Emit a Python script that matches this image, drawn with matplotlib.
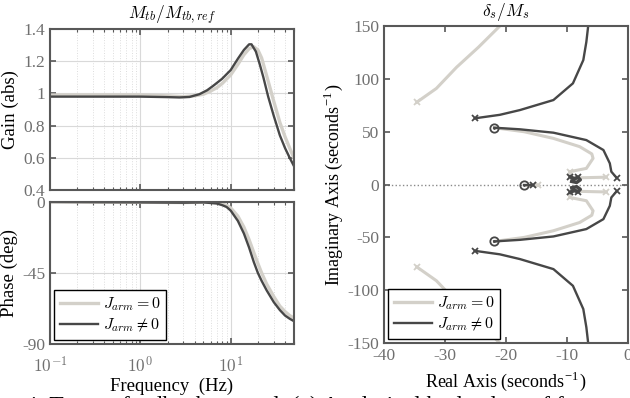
import matplotlib
matplotlib.use('Agg')
import matplotlib.pyplot as plt
from matplotlib.ticker import LogLocator, NullFormatter

plt.rcParams['font.family'] = ['Liberation Serif', 'DejaVu Serif']
plt.rcParams['mathtext.fontset'] = 'cm'
plt.rcParams['axes.unicode_minus'] = False

LIGHT = '#d3d0c9'
DARK = '#474747'
SPINE = '#585858'
TICKC = '#707070'

# Bode data (Hz)
f_gain_light = [0.1, 0.5, 1, 2, 3, 4, 5, 6, 7, 8, 10, 12, 14, 16, 18, 20, 22, 25, 30, 35, 40, 45, 50]
gain_light = [0.99, 0.99, 0.99, 0.985, 0.98, 0.985, 0.995, 1.015, 1.035, 1.06, 1.115, 1.18, 1.24, 1.278, 1.29, 1.27, 1.22, 1.11, 0.95, 0.82, 0.73, 0.66, 0.6]
f_gain_dark = [0.1, 0.5, 1, 2, 2.7, 3.5, 4.5, 5.5, 6.5, 8, 10, 12, 14, 16, 17, 19, 21, 23, 26, 30, 35, 40, 45, 50]
gain_dark = [0.98, 0.98, 0.98, 0.977, 0.975, 0.978, 0.995, 1.02, 1.05, 1.09, 1.145, 1.215, 1.27, 1.305, 1.305, 1.26, 1.18, 1.1, 0.98, 0.86, 0.74, 0.66, 0.6, 0.55]

f_phase = [0.1, 1, 3, 5, 7, 8, 9, 10, 12, 14, 16, 18, 20, 22, 25, 30, 35, 40, 45, 50]
phase_light = [0, -0.2, -0.4, -0.2, -0.5, -1.2, -2.2, -3.8, -9, -16, -24, -32, -39, -45, -52, -60, -66, -69.5, -72, -73.5]
phase_dark = [0, -0.3, -0.5, -0.3, -1, -2, -3.2, -5.5, -12, -20, -29, -38, -45, -50, -56, -63.5, -68.5, -72, -74, -75.5]

# Root locus branches (upper half; lower half is the conjugate)
rl_light_outer_re = [-34.6, -31.4, -28.1, -24.5, -21.0]
rl_light_outer_im = [78, 91, 111, 130, 150]
rl_light_inner_re = [-21.9, -17, -12.2, -7.9, -5.9, -5.7, -6.8, -9.5]
rl_light_inner_im = [53.8, 50, 43.7, 35.9, 29, 24.8, 15.3, 12.2]
rl_light_near_re = [-9.3, -6.5, -3.5]
rl_light_near_im = [6.2, 6.6, 7.0]
rl_dark_outer_re = [-25.1, -21, -17.7, -12.2, -9.0, -7.3, -6.8, -6.5]
rl_dark_outer_im = [62.7, 66, 70.5, 80, 95.8, 117.8, 135, 150]
rl_dark_inner_re = [-21.9, -17.7, -12.2, -6.8, -4.0, -2.95, -2.7, -1.85]
rl_dark_inner_im = [53.8, 52.3, 49.1, 42.1, 32.7, 20.1, 12.2, 6.5]
rl_dark_near_re = [-9.4, -8.8, -8.2, -7.8, -8.4, -9.2]
rl_dark_near_im = [7.5, 5.5, 7.0, 4.5, 2.0, 3.0]
zero_re = [-21.9, -17.05]
zero_im = [53.8, 0]

fig = plt.figure(figsize=(6.3, 3.98), dpi=100)
ax1 = fig.add_axes([0.0794, 0.5226, 0.387, 0.4045])
ax2 = fig.add_axes([0.0794, 0.1357, 0.387, 0.357])
ax3 = fig.add_axes([0.6095, 0.138, 0.387, 0.7965])

def style(ax):
    for s in ax.spines.values():
        s.set_color(SPINE)
        s.set_linewidth(1.5)
    ax.tick_params(which='both', direction='in', top=True, right=True,
                   colors=SPINE, labelcolor=TICKC, labelsize=12.5)
    ax.tick_params(which='major', length=4, width=1.2)
    ax.tick_params(which='minor', length=2, width=0.8)

for ax in (ax1, ax2):
    ax.set_xscale('log')
    ax.set_xlim(0.1, 50)
    ax.xaxis.set_minor_locator(LogLocator(base=10, subs=range(2, 10), numticks=20))
    ax.xaxis.set_minor_formatter(NullFormatter())
    ax.grid(True, which='major', color='#d9d9d9', lw=0.8)
    ax.grid(True, which='minor', axis='x', color='#dddddd', lw=0.7, ls=':')
    style(ax)

ax1.plot(f_gain_light, gain_light, color=LIGHT, lw=2.4)
ax1.plot(f_gain_dark, gain_dark, color=DARK, lw=1.7)
ax1.set_ylim(0.4, 1.4)
ax1.set_yticks([0.4, 0.6, 0.8, 1.0, 1.2, 1.4])
ax1.set_yticklabels(['0.4', '0.6', '0.8', '1', '1.2', '1.4'])
ax1.set_xticklabels([])
ax1.set_ylabel('Gain (abs)', fontsize=13.5, labelpad=3)
ax1.set_title(r'$M_{tb}/M_{tb,ref}$', fontsize=12.5, pad=7)

l1, = ax2.plot(f_phase, phase_light, color=LIGHT, lw=2.4, label=r'$J_{arm}=0$')
l2, = ax2.plot(f_phase, phase_dark, color=DARK, lw=1.7, label=r'$J_{arm}\neq0$')
ax2.set_ylim(-90, 0)
ax2.set_yticks([-90, -45, 0])
ax2.set_yticklabels(['-90', '-45', '0'])
ax2.set_xticks([0.1, 1, 10])
ax2.set_xticklabels([r'$10^{-1}$', r'$10^{0}$', r'$10^{1}$'])
ax2.tick_params(axis='x', pad=9)
ax2.set_xlabel('Frequency  (Hz)', fontsize=13.5, labelpad=1)
ax2.set_ylabel('Phase (deg)', fontsize=13.5, labelpad=3)

legkw = dict(loc='lower left', fontsize=11.5, handlelength=2.4, handletextpad=0.3,
             fancybox=False, framealpha=1, edgecolor='black', borderpad=0.35,
             labelspacing=0.25, borderaxespad=0.25)
leg = ax2.legend(**legkw)
leg.get_frame().set_linewidth(1.0)

# Root locus
ax3.axhline(0, color='#8a8a8a', lw=1.0, ls=':', zorder=1)
for sgn in (1, -1):
    ax3.plot(rl_light_outer_re, [sgn * v for v in rl_light_outer_im], color=LIGHT, lw=2.2)
    ax3.plot(rl_light_inner_re, [sgn * v for v in rl_light_inner_im], color=LIGHT, lw=2.2)
    ax3.plot(rl_light_near_re, [sgn * v for v in rl_light_near_im], color=LIGHT, lw=2.2)
    ax3.plot(rl_dark_outer_re, [sgn * v for v in rl_dark_outer_im], color=DARK, lw=1.7)
    ax3.plot(rl_dark_inner_re, [sgn * v for v in rl_dark_inner_im], color=DARK, lw=1.7)
    ax3.plot(rl_dark_near_re, [sgn * v for v in rl_dark_near_im], color=DARK, lw=2.5)
    ax3.plot([rl_light_outer_re[0], rl_light_inner_re[-1], rl_light_near_re[-1]],
             [sgn * rl_light_outer_im[0], sgn * rl_light_inner_im[-1], sgn * rl_light_near_im[-1]],
             'x', color=LIGHT, ms=5, mew=1.3)
    ax3.plot([rl_dark_outer_re[0], rl_dark_inner_re[-1], rl_dark_near_re[0], rl_dark_near_re[2]],
             [sgn * rl_dark_outer_im[0], sgn * rl_dark_inner_im[-1], sgn * rl_dark_near_im[0], sgn * rl_dark_near_im[2]],
             'x', color=DARK, ms=5, mew=1.3)
ax3.plot([-16.5, -14.7], [0, 0], color=LIGHT, lw=2.2)
ax3.plot([-14.7], [0], 'x', color=LIGHT, ms=5, mew=1.3)
ax3.plot([-17.05, -15.5], [0, 0], color=DARK, lw=1.7)
ax3.plot([-15.5], [0], 'x', color=DARK, ms=4, mew=1.3)
ax3.plot(zero_re + zero_re[:1], zero_im + [-zero_im[0]], 'o', mfc='none', mec=DARK, ms=6, mew=1.3)
ax3.plot(zero_re + zero_re[:1], zero_im + [-zero_im[0]], '.', color=DARK, ms=2)

ax3.set_xlim(-40, 0)
ax3.set_ylim(-150, 150)
ax3.set_xticks([-40, -30, -20, -10, 0])
ax3.set_xticklabels(['-40', '-30', '-20', '-10', '0'])
ax3.set_yticks([-150, -100, -50, 0, 50, 100, 150])
ax3.set_yticklabels(['-150', '-100', '-50', '0', '50', '100', '150'])
style(ax3)
ax3.set_xlabel(r'Real Axis (seconds$^{\mathregular{-1}}$)', fontsize=13, labelpad=4)
ax3.set_ylabel(r'Imaginary Axis (seconds$^{\mathregular{-1}}$)', fontsize=13, labelpad=2)
ax3.set_title(r'$\delta_s/M_s$', fontsize=12.5, pad=7)
leg3 = ax3.legend([l1, l2], [r'$J_{arm}=0$', r'$J_{arm}\neq0$'], **legkw)
leg3.get_frame().set_linewidth(1.0)

fig.text(0.015, -0.022, 'e 4: Torque feedback control. (a) Analytical bode plots of f',
         fontsize=17, va='center', ha='left')

fig.savefig('out.png', dpi=100)
